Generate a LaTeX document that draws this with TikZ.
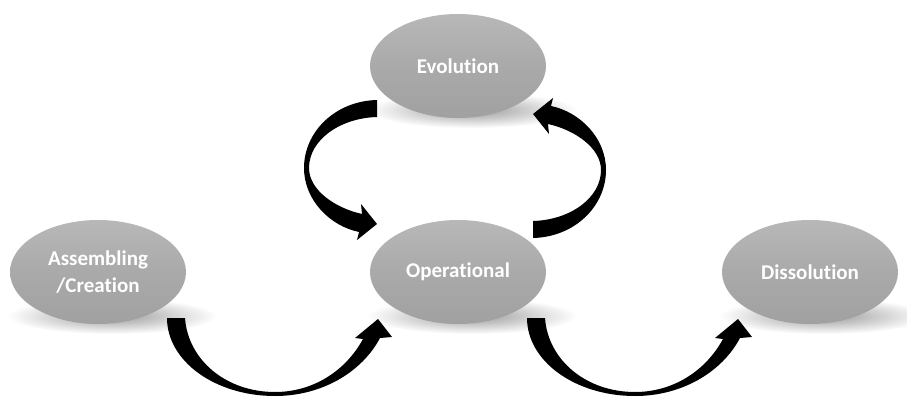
\documentclass[tikz,border=0pt]{standalone}
\usepackage{fontspec}
\setmainfont{Carlito}[Ligatures=NoCommon]
\usetikzlibrary{shapes.geometric,fadings,backgrounds,calc}

\tikzfading[name=softspot, inner color=transparent!20, outer color=transparent!100]

\tikzset{
  stage/.style={ellipse, minimum width=176pt, minimum height=104pt, inner sep=0pt,
    top color=gray!56, bottom color=gray!74, middle color=gray!67,
    text=white, font=\bfseries\fontsize{21}{27}\selectfont, align=center},
  stageshadow/.style={fill=black, opacity=0.5, path fading=softspot},
  blockarrow/.style={fill=black}
}

\begin{document}
\begin{tikzpicture}[x=1pt,y=-1pt]
  \useasboundingbox (0,0) rectangle (907,396);

  \node[stage](evolution) at (458,66) {Evolution};
  \node[stage](assembling) at (98,272) {Assembling\\/Creation};
  \node[stage](operational) at (458,272) {Operational};
  \node[stage](dissolution) at (810,272) {Dissolution};

  % soft shadows under the stages
  \begin{scope}[on background layer]
    \foreach \n in {evolution,assembling,operational,dissolution}
      \fill[stageshadow] ($(\n)+(14,44)$) ellipse (104 and 18);
  \end{scope}

  % bottom arrows
  \begin{scope}[shift={(assembling.center)}]
    \fill[blockarrow] (69,46) .. controls (69,89) and (117,124) .. (177,124)
      .. controls (224,124) and (264,100) .. (282,66)
      -- (294,65) -- (280,47) -- (257,66) -- (265,67)
      .. controls (247,100) and (214,120) .. (177,120)
      .. controls (128,120) and (90,88) .. (87,46) -- cycle;
  \end{scope}
  \begin{scope}[shift={(operational.center)}]
    \fill[blockarrow] (69,46) .. controls (69,89) and (117,124) .. (177,124)
      .. controls (224,124) and (264,100) .. (282,66)
      -- (294,65) -- (280,47) -- (257,66) -- (265,67)
      .. controls (247,100) and (214,120) .. (177,120)
      .. controls (128,120) and (90,88) .. (87,46) -- cycle;
  \end{scope}

  % loop between evolution and operational
  \begin{scope}[shift={($(evolution)!0.5!(operational)+(-3,0)$)}]
    \fill[blockarrow] (-78,-69) .. controls (-120,-68) and (-151,-37) .. (-151,-1)
      .. controls (-151,31) and (-125,57) .. (-96,63)
      -- (-98,71) -- (-78,55) -- (-94,35) -- (-93,45)
      .. controls (-120,39) and (-146,21) .. (-146,-1)
      .. controls (-146,-29) and (-115,-51) .. (-78,-52) -- cycle;
    \fill[blockarrow,rotate=180] (-78,-69) .. controls (-120,-68) and (-151,-37) .. (-151,-1)
      .. controls (-151,31) and (-125,57) .. (-96,63)
      -- (-98,71) -- (-78,55) -- (-94,35) -- (-93,45)
      .. controls (-120,39) and (-146,21) .. (-146,-1)
      .. controls (-146,-29) and (-115,-51) .. (-78,-52) -- cycle;
  \end{scope}
\end{tikzpicture}
\end{document}
